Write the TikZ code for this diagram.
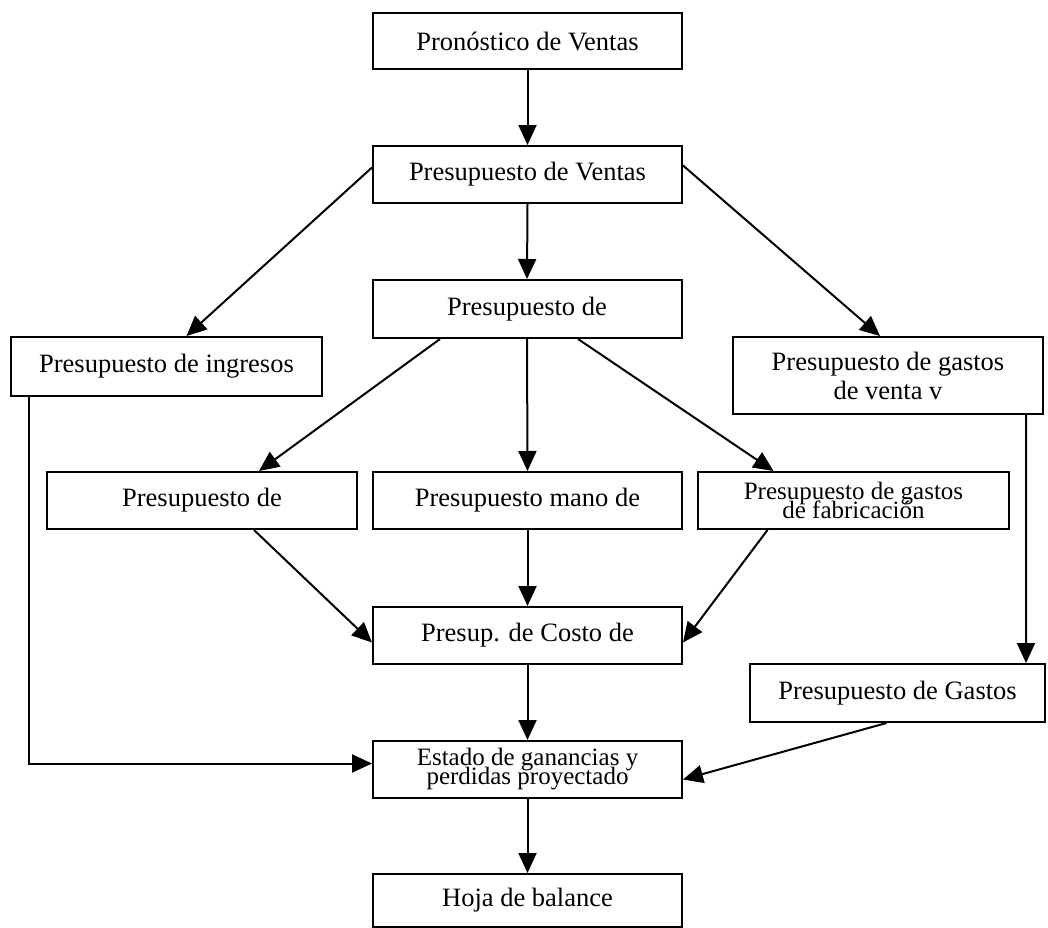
\documentclass[tikz,border=0pt]{standalone}
\usepackage{fontspec}
\setmainfont{Liberation Serif}
\usetikzlibrary{arrows.meta}
\newcommand\tightsp{\lineskiplimit=-60bp\relax\lineskip=0bp\relax}
\begin{document}
\begin{tikzpicture}[x=1bp,y=-1bp,
  box/.style={draw,line width=2bp,inner sep=0pt,align=center,
    font=\fontsize{26.5bp}{29bp}\selectfont},
  tight/.style={font=\fontsize{25bp}{19bp}\selectfont\tightsp},
  conn/.style={line width=2bp,-{Triangle[length=20bp,width=18bp]}}]
\useasboundingbox[fill=white] (0,0) rectangle (1048,928);
\node[box,minimum width=309bp,minimum height=56bp] (pron) at (527.5,41) {Pronóstico de Ventas};
\node[box,minimum width=309bp,minimum height=57bp] (ventas) at (527.5,174.5) {Presupuesto de Ventas};
\node[box,minimum width=309bp,minimum height=58bp] (mid) at (527,309) {Presupuesto de};
\node[box,minimum width=311bp,minimum height=59bp] (ingresos) at (166.5,366.5) {Presupuesto de ingresos};
\node[box,minimum width=310bp,minimum height=77bp] (gventa) at (888,375.5) {Presupuesto de gastos\\de venta v};
\node[box,minimum width=310bp,minimum height=57bp] (left) at (202,500.5) {Presupuesto de};
\node[box,minimum width=309bp,minimum height=57bp] (mano) at (527.5,500.5) {Presupuesto mano de};
\node[box,tight,minimum width=311bp,minimum height=57bp] (fab) at (853.5,500.5) {Presupuesto de gastos\\de fabricación};
\node[box,minimum width=309bp,minimum height=57bp] (costo) at (527.5,635.5) {Presup. de Costo de};
\node[box,minimum width=295bp,minimum height=58bp] (gastos) at (897.5,693) {Presupuesto de Gastos};
\node[box,tight,minimum width=309bp,minimum height=57bp] (estado) at (527.5,769.5) {Estado de ganancias y\\perdidas proyectado};
\node[box,minimum width=309bp,minimum height=53bp] (hoja) at (527.5,900.5) {Hoja de balance};
% connectors
\draw[conn] (pron.south) -- (ventas.north);
\draw[conn] (ventas.south) -- (mid.north);
\draw[conn] ([yshift=7bp]ventas.west) -- ([xshift=20bp]ingresos.north);
\draw[conn] ([yshift=9bp]ventas.east) -- ([xshift=-8bp]gventa.north);
\draw[conn] ([xshift=-87bp]mid.south) -- ([xshift=57bp]left.north);
\draw[conn] (mid.south) -- (mano.north);
\draw[conn] ([xshift=51bp]mid.south) -- ([xshift=-80bp]fab.north);
\draw[conn] ([xshift=52bp]left.south) -- ([yshift=-7bp]costo.west);
\draw[conn] (mano.south) -- (costo.north);
\draw[conn] ([xshift=-86bp]fab.south) -- ([yshift=-7bp]costo.east);
\draw[conn] ([xshift=138bp]gventa.south) -- ([xshift=128.5bp]gastos.north);
\draw[conn] (costo.south) -- (estado.north);
\draw[conn] ([xshift=-137.5bp]ingresos.south) |- ([yshift=6bp]estado.west);
\draw[conn] ([xshift=-11bp]gastos.south) -- ([yshift=-10bp]estado.east);
\draw[conn] (estado.south) -- (hoja.north);
\end{tikzpicture}
\end{document}
